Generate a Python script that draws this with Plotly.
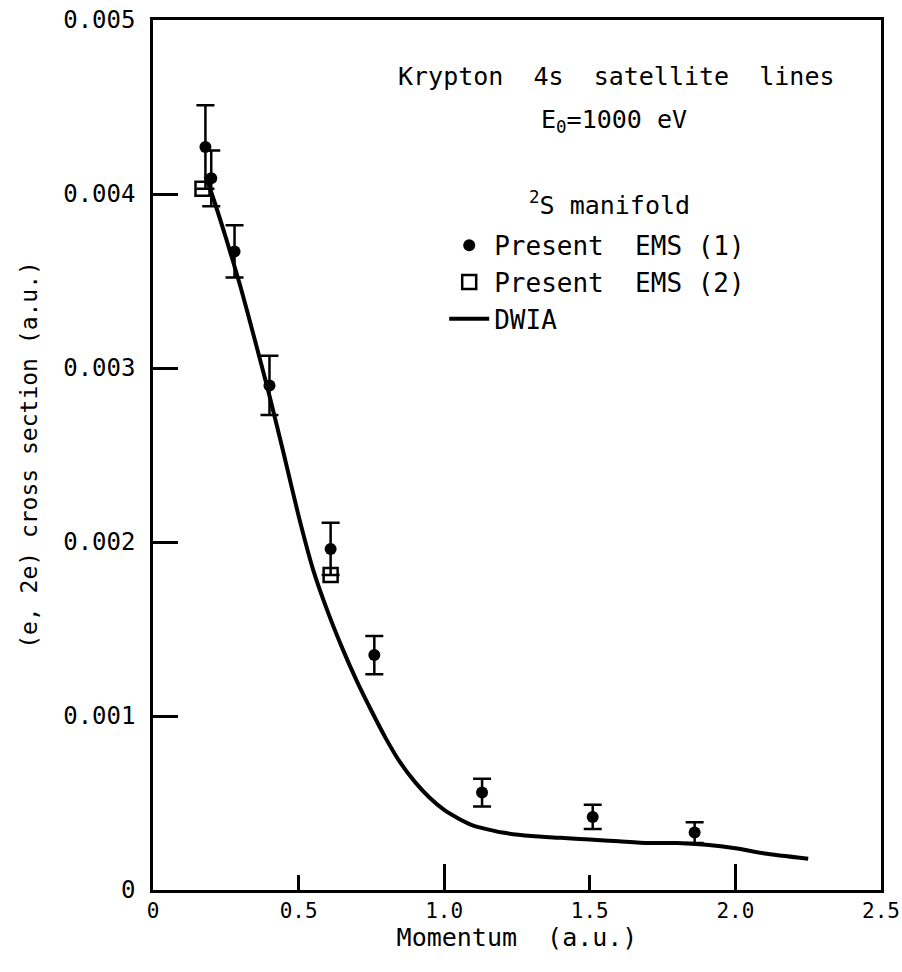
import plotly.graph_objects as go

# EMS (1) data: momentum, cross section, error
ems1_x = [0.18, 0.20, 0.28, 0.40, 0.61, 0.76, 1.13, 1.51, 1.86]
ems1_y = [0.00427, 0.00409, 0.00367, 0.00290, 0.00196, 0.00135, 0.00056, 0.00042, 0.00033]
ems1_err = [0.00024, 0.00016, 0.00015, 0.00017, 0.00015, 0.00011, 0.00008, 0.00007, 0.00006]

# EMS (2) data
ems2_x = [0.17, 0.61]
ems2_y = [0.00403, 0.00181]

# DWIA curve
dwia_x = [0.18, 0.20, 0.25, 0.30, 0.35, 0.40, 0.45, 0.50, 0.55, 0.60, 0.65, 0.70,
          0.75, 0.80, 0.85, 0.90, 0.95, 1.00, 1.05, 1.10, 1.20, 1.30, 1.40, 1.50,
          1.60, 1.70, 1.80, 1.90, 2.00, 2.10, 2.25]
dwia_y = [0.00410, 0.00401, 0.00375, 0.00347, 0.00316, 0.00284, 0.00250, 0.00215,
          0.00184, 0.00160, 0.00139, 0.00120, 0.00103, 0.00087, 0.00073, 0.00062,
          0.00053, 0.00046, 0.00041, 0.00037, 0.00033, 0.00031, 0.00030, 0.00029,
          0.00028, 0.00027, 0.00027, 0.00026, 0.00024, 0.00021, 0.00018]

x_tickvals = [0, 0.5, 1.0, 1.5, 2.0, 2.5]
x_ticktext = ["0", "0.5", "1.0", "1.5", "2.0", "2.5"]
y_tickvals = [0, 0.001, 0.002, 0.003, 0.004, 0.005]
y_ticktext = ["0", "0.001", "0.002", "0.003", "0.004", "0.005"]

FONT = "DejaVu Sans Mono"
NB = "\u00a0"

fig = go.Figure()

fig.add_trace(go.Scatter(
    x=dwia_x, y=dwia_y, mode="lines", name="DWIA",
    line=dict(color="black", width=4, shape="spline", smoothing=0.6), legendrank=3))

fig.add_trace(go.Scatter(
    x=ems2_x, y=ems2_y, mode="markers", name="Present" + NB * 2 + "EMS" + NB + "(2)",
    marker=dict(symbol="square-open", size=14, color="black", line=dict(width=2.5)),
    legendrank=2))

fig.add_trace(go.Scatter(
    x=ems1_x, y=ems1_y, mode="markers", name="Present" + NB * 2 + "EMS" + NB + "(1)",
    marker=dict(symbol="circle", size=12, color="black"),
    error_y=dict(type="data", array=ems1_err, visible=True, color="black",
                 thickness=2.5, width=9),
    legendrank=1))

# invisible trace carrying the secondary axis used for the longer ticks
fig.add_trace(go.Scatter(x=[0, 2.5], y=[0, 0], xaxis="x2", mode="markers",
                         marker=dict(opacity=0), showlegend=False, hoverinfo="skip"))

fig.update_layout(
    width=902, height=972,
    margin=dict(l=153, r=21, t=20, b=82, autoexpand=False),
    paper_bgcolor="white", plot_bgcolor="white",
    font=dict(family=FONT, color="black", size=24),
    showlegend=True,
    legend=dict(x=0.40, y=0.768, xanchor="left", yanchor="top",
                bgcolor="rgba(0,0,0,0)", font=dict(size=26, family=FONT),
                traceorder="normal", itemwidth=40, tracegroupgap=0),
    xaxis=dict(range=[0, 2.5], tickvals=x_tickvals, ticktext=x_ticktext,
               ticks="inside", ticklen=15, tickwidth=2.5, tickcolor="black",
               showline=True, linewidth=2.5, linecolor="black", mirror=True,
               showgrid=False, zeroline=False, automargin=False,
               ticklabeloverflow="allow",
               tickfont=dict(size=21, family=FONT),
               title=dict(text="Momentum" + NB + NB + "(a.u.)", font=dict(size=25, family=FONT),
                          standoff=6)),
    xaxis2=dict(range=[0, 2.5], overlaying="x", side="bottom", matches="x",
                tickvals=[1.0, 2.0], ticks="inside", ticklen=26, tickwidth=2.5,
                tickcolor="black", showticklabels=False, showline=False,
                showgrid=False, zeroline=False, automargin=False),
    yaxis=dict(range=[0, 0.005], tickvals=y_tickvals, ticktext=y_ticktext,
               ticks="inside", ticklen=25, tickwidth=2.5, tickcolor="black",
               showline=True, linewidth=2.5, linecolor="black", mirror=True,
               showgrid=False, zeroline=False, ticklabelstandoff=10,
               automargin=False, ticklabeloverflow="allow",
               tickfont=dict(size=24, family=FONT),
               title=dict(text="(e," + NB + "2e)" + NB + "cross" + NB + "section" + NB + "(a.u.)",
                          font=dict(size=23, family=FONT), standoff=20)),
)

fig.add_annotation(xref="paper", yref="paper", x=0.637, y=0.935,
                   text="Krypton" + NB + NB + "4s" + NB + NB + "satellite" + NB + NB + "lines",
                   showarrow=False, font=dict(size=25, family=FONT),
                   xanchor="center", yanchor="middle")
fig.add_annotation(xref="paper", yref="paper", x=0.633, y=0.884,
                   text="E<sub>0</sub>=1000" + NB + "eV",
                   showarrow=False, font=dict(size=25, family=FONT),
                   xanchor="center", yanchor="middle")
fig.add_annotation(xref="paper", yref="paper", x=0.627, y=0.789,
                   text="<sup>2</sup>S" + NB + "manifold",
                   showarrow=False, font=dict(size=25, family=FONT),
                   xanchor="center", yanchor="middle")

fig.write_html("out.html")
